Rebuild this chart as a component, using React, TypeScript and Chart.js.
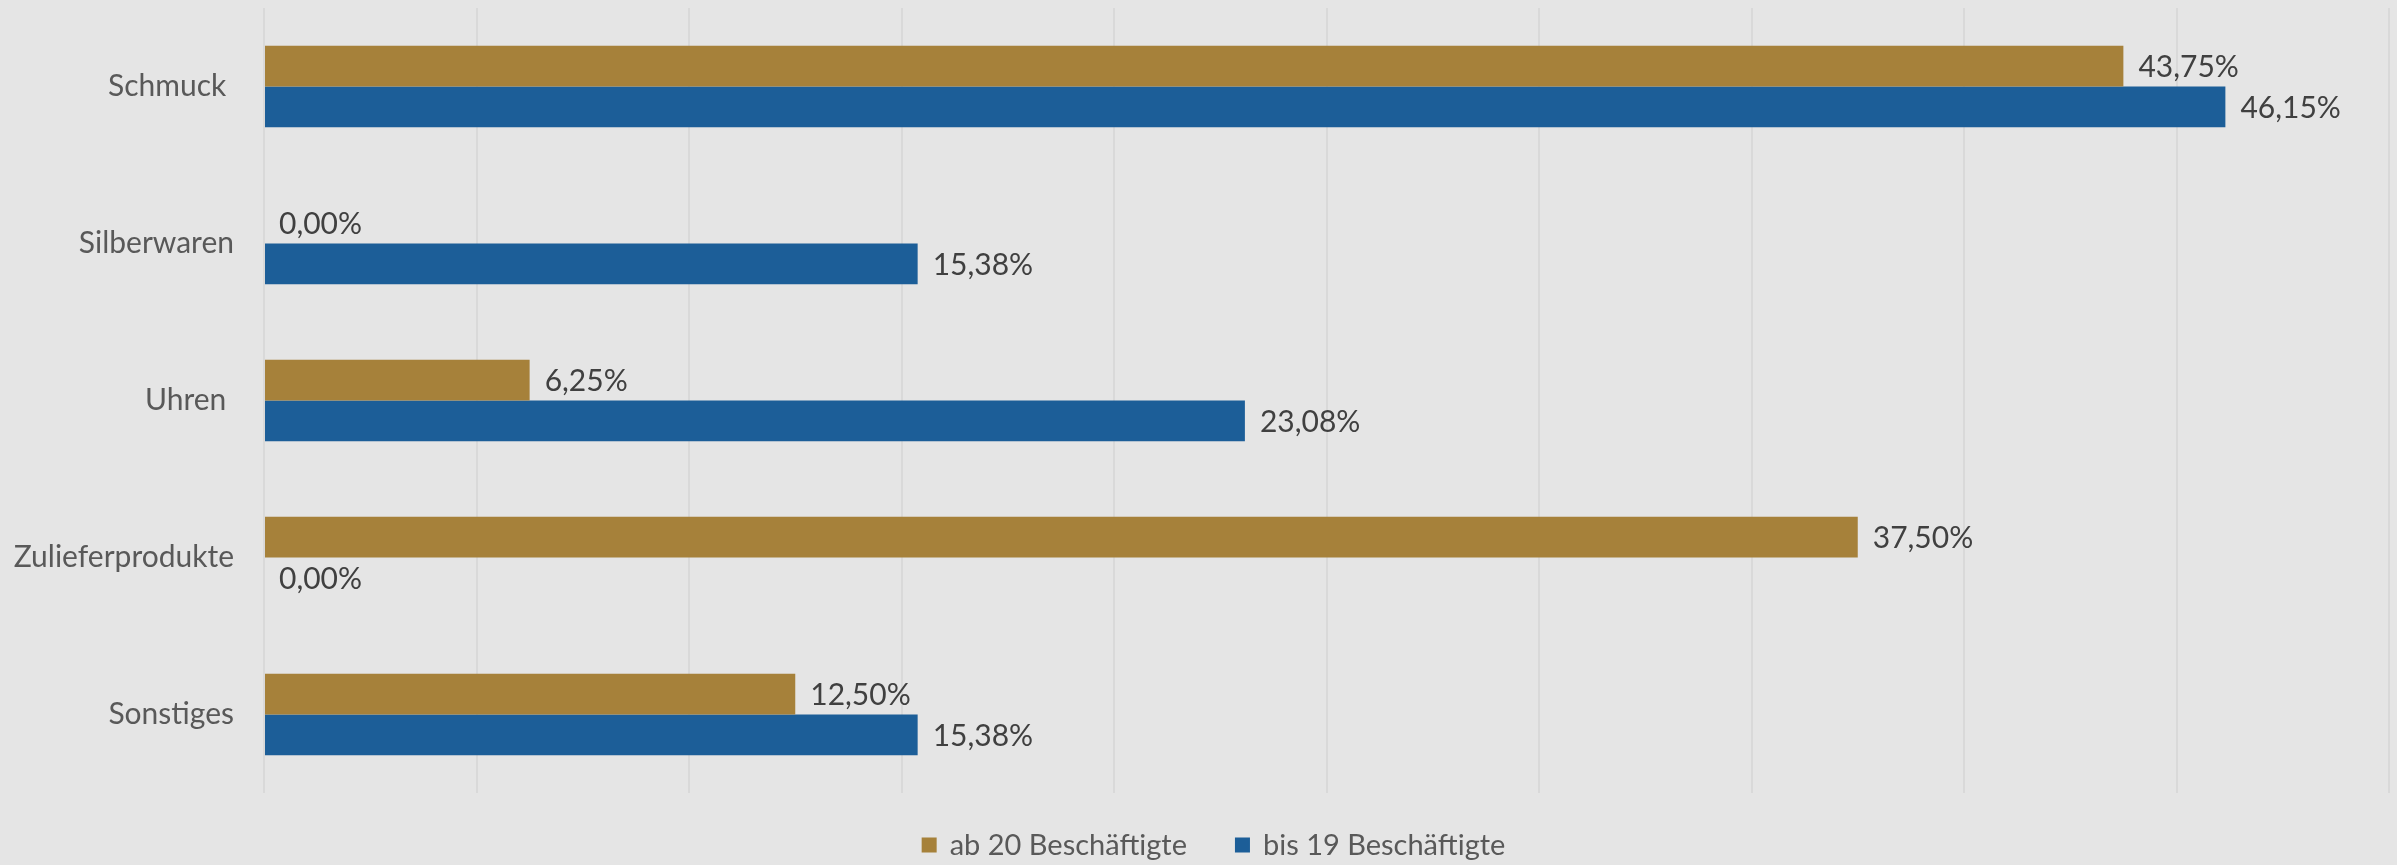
import React, { useEffect, useRef } from "react";
import { Chart, registerables } from "chart.js";

Chart.register(...registerables);

const categories = ["Schmuck ", "Silberwaren", "Uhren ", "Zulieferprodukte", "Sonstiges"];
const ab20Values = [43.75, 0, 6.25, 37.5, 12.5];
const bis19Values = [46.15, 15.38, 23.08, 0, 15.38];
const seriesLabels = ["ab 20 Beschäftigte", "bis 19 Beschäftigte"];
const xTicksMax = 50;
const xTicksStep = 5;

const FONT = "Lato, 'Open Sans', sans-serif";
const GOLD = "#A6813A";
const BLUE = "#1C5E98";

const fmt = (v: number) => v.toFixed(2).replace(".", ",") + "%";

const dataLabelPlugin = {
  id: "dataLabels",
  afterDatasetsDraw(chart: any) {
    const ctx = chart.ctx;
    ctx.save();
    ctx.font = `30px ${FONT}`;
    ctx.fillStyle = "#404040";
    ctx.textAlign = "left";
    ctx.textBaseline = "middle";
    chart.data.datasets.forEach((ds: any, di: number) => {
      const meta = chart.getDatasetMeta(di);
      meta.data.forEach((el: any, i: number) => {
        ctx.fillText(fmt(ds.data[i]), el.x + 15, el.y + 1);
      });
    });
    ctx.restore();
  },
};

const legendPlugin = {
  id: "customLegend",
  afterDraw(chart: any) {
    const ctx = chart.ctx;
    ctx.save();
    ctx.font = `29px ${FONT}`;
    ctx.textBaseline = "middle";
    ctx.textAlign = "left";
    const box = 15;
    const gapBoxText = 13;
    const gapItems = 48;
    const items = chart.data.datasets.map((ds: any) => ({
      text: ds.label,
      color: ds.backgroundColor,
      w: ctx.measureText(ds.label).width,
    }));
    const total =
      items.reduce((a: number, it: any) => a + box + gapBoxText + it.w, 0) +
      gapItems * (items.length - 1);
    let x = chart.width / 2 + 15 - total / 2;
    const y = 845;
    items.forEach((it: any) => {
      ctx.fillStyle = it.color;
      ctx.fillRect(x, y - box / 2, box, box);
      x += box + gapBoxText;
      ctx.fillStyle = "#595959";
      ctx.fillText(it.text, x, y + 1);
      x += it.w + gapItems;
    });
    ctx.restore();
  },
};

export default function App() {
  const ref = useRef<HTMLCanvasElement>(null);

  useEffect(() => {
    if (!ref.current) return;
    const chart = new Chart(ref.current, {
      type: "bar",
      data: {
        labels: categories,
        datasets: [
          {
            label: seriesLabels[0],
            data: ab20Values,
            backgroundColor: GOLD,
            barPercentage: 1,
            categoryPercentage: 0.52,
          },
          {
            label: seriesLabels[1],
            data: bis19Values,
            backgroundColor: BLUE,
            barPercentage: 1,
            categoryPercentage: 0.52,
          },
        ],
      },
      options: {
        indexAxis: "y",
        responsive: false,
        animation: false,
        layout: { padding: { top: 8, right: 8, bottom: 72, left: 0 } },
        plugins: {
          legend: { display: false },
          tooltip: { enabled: false },
        },
        scales: {
          x: {
            min: 0,
            max: xTicksMax,
            ticks: { display: false, stepSize: xTicksStep },
            grid: { color: "#d9d9d9", lineWidth: 2, drawTicks: false },
            border: { display: false },
            afterFit: (s: any) => {
              s.height = 0;
              s.paddingLeft = 0;
              s.paddingRight = 0;
            },
          },
          y: {
            grid: { display: false, drawTicks: false },
            border: { display: false },
            ticks: {
              color: "#595959",
              font: { family: FONT, size: 30 },
              padding: 30,
            },
            afterFit: (s: any) => {
              s.width = 264;
              s.paddingTop = 0;
              s.paddingBottom = 0;
            },
          },
        },
      },
      plugins: [dataLabelPlugin, legendPlugin],
    });
    return () => chart.destroy();
  }, []);

  return (
    <div
      style={{
        position: "fixed",
        left: 0,
        top: 0,
        width: 2397,
        height: 865,
        background: "#e5e5e5",
      }}
    >
      <canvas ref={ref} width={2397} height={865} style={{ width: 2397, height: 865, display: "block" }} />
    </div>
  );
}
